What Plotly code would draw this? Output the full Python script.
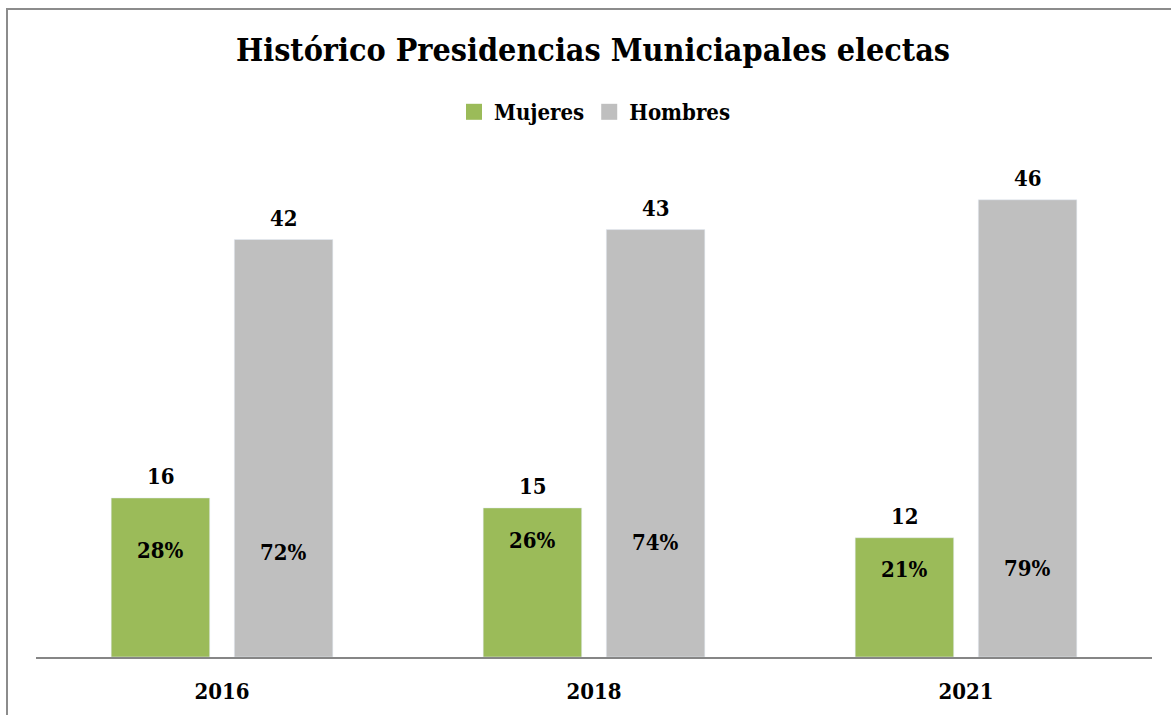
import plotly.graph_objects as go

years = ["2016", "2018", "2021"]
mujeres = [16, 15, 12]
hombres = [42, 43, 46]
pct_mujeres = ["28%", "26%", "21%"]
pct_hombres = ["72%", "74%", "79%"]
pct_y_mujeres = [10.8, 11.8, 8.9]
pct_y_hombres = [10.6, 11.6, 9.0]

FONT = "DejaVu Serif Condensed"
GREEN = "#9BBB59"
GRAY = "#BFBFBF"
TXT = dict(family=FONT, size=22, color="black", weight="bold")

fig = go.Figure()
fig.add_trace(go.Bar(name="Mujeres", x=years, y=mujeres, marker_color=GREEN, showlegend=False))
fig.add_trace(go.Bar(name="Hombres", x=years, y=hombres, marker_color=GRAY, showlegend=False))
# legend entries with square swatches
fig.add_trace(go.Scatter(name="Mujeres", x=[years[0]], y=[None], mode="markers",
                         marker=dict(symbol="square", size=16, color=GREEN)))
fig.add_trace(go.Scatter(name="Hombres", x=[years[0]], y=[None], mode="markers",
                         marker=dict(symbol="square", size=16, color=GRAY)))

slot_px = 61.5
for i, yr in enumerate(years):
    # value labels above bars
    fig.add_annotation(x=i, y=mujeres[i], text=str(mujeres[i]), showarrow=False,
                       xshift=-slot_px, yshift=22, yanchor="middle", font=TXT)
    fig.add_annotation(x=i, y=hombres[i], text=str(hombres[i]), showarrow=False,
                       xshift=slot_px, yshift=22, yanchor="middle", font=TXT)
    # share labels inside bars
    fig.add_annotation(x=i, y=pct_y_mujeres[i], text=pct_mujeres[i], showarrow=False,
                       xshift=-slot_px, font=TXT)
    fig.add_annotation(x=i, y=pct_y_hombres[i], text=pct_hombres[i], showarrow=False,
                       xshift=slot_px, font=TXT)

W, H = 1171, 715
L, R, T, B = 36, 19, 160, 58
pw, ph = W - L - R, H - T - B

fig.add_shape(type="rect", xref="paper", yref="paper",
              x0=(7 - L) / pw, x1=(W + 5 - L) / pw,
              y0=-(B + 5) / ph, y1=1 + (T - 9) / ph,
              line=dict(color="#8C8C8C", width=2), fillcolor="rgba(0,0,0,0)", layer="below")

fig.update_layout(
    width=W, height=H,
    margin=dict(l=L, r=R, t=T, b=B, autoexpand=False),
    paper_bgcolor="white", plot_bgcolor="white",
    barmode="group", bargap=0.338, bargroupgap=0.2,
    title=dict(text="Histórico Presidencias Municiapales electas", x=593 / W, xanchor="center",
               y=1 - 50 / H, yanchor="middle",
               font=dict(family=FONT, size=32, color="black", weight="bold")),
    legend=dict(orientation="h", x=(595 - L) / pw, xanchor="center",
                y=1 + (T - 112) / ph, yanchor="middle",
                font=TXT, itemwidth=30, traceorder="normal"),
    xaxis=dict(type="category", showline=True, linecolor="#868686", linewidth=2, ticks="",
               tickfont=TXT, ticklabelstandoff=14, showgrid=False, zeroline=False,
               range=[-0.5, 2.5], automargin=False),
    yaxis=dict(range=[0, 50], visible=False, showgrid=False, zeroline=False, automargin=False),
)

fig.write_html("out.html", post_script="document.body.style.margin='0';",
               config={"displayModeBar": False})
